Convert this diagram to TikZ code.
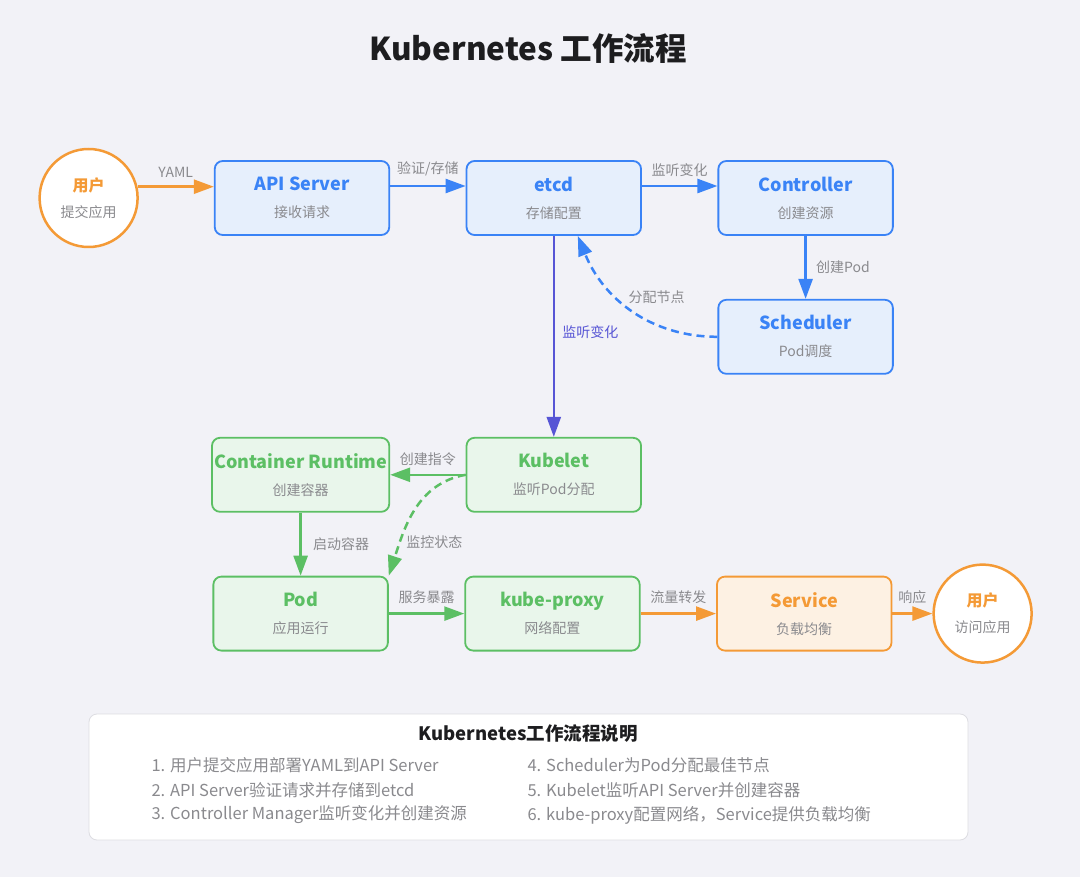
\documentclass[tikz,border=0pt]{standalone}
\usepackage{fontspec}
\setmainfont{Noto Sans CJK SC}
\usepackage{xcolor}
\usetikzlibrary{positioning, arrows.meta}

\definecolor{k8bg}{HTML}{F2F2F7}
\definecolor{k8dark}{HTML}{1D1D1F}
\definecolor{k8gray}{HTML}{8A8A8E}
\definecolor{k8blue}{HTML}{3A83F6}
\definecolor{k8bluefill}{HTML}{E6EFFC}
\definecolor{k8green}{HTML}{5CBF64}
\definecolor{k8greenfill}{HTML}{E9F6EB}
\definecolor{k8orange}{HTML}{F49A36}
\definecolor{k8orangefill}{HTML}{FDF1E3}
\definecolor{k8indigo}{HTML}{5755D5}
\definecolor{k8border}{HTML}{DDDDE2}

\newcommand{\boxlabel}[2]{{\fontsize{18}{20}\selectfont\bfseries #1}\\{\color{k8gray}#2}}

\begin{document}
\begin{tikzpicture}[x=1pt, y=1pt,
    node distance=63pt and 75.5pt,
    box/.style={draw, rounded corners=8pt, line width=1.8pt, minimum width=174.5pt,
                minimum height=74pt, inner sep=2pt, align=center,
                font=\fontsize{14}{27}\selectfont},
    bluebox/.style={box, draw=k8blue, fill=k8bluefill, text=k8blue},
    greenbox/.style={box, draw=k8green, fill=k8greenfill, text=k8green},
    orangebox/.style={box, draw=k8orange, fill=k8orangefill, text=k8orange},
    user/.style={circle, draw=k8orange, fill=white, line width=2.5pt,
                 minimum size=98pt, inner sep=0pt, align=center, text=k8orange,
                 font=\fontsize{14}{26}\selectfont},
    arr/.style={-{Triangle[length=20pt, width=14pt]}, line width=2.5pt},
    dasharr/.style={arr, dash pattern=on 8pt off 5pt},
    lbl/.style={font=\fontsize{14}{16}\selectfont, text=k8gray},
    item/.style={anchor=west, font=\fontsize{16.5}{18}\selectfont, text=k8gray},
  ]
  % canvas
  \fill[k8bg] (0,0) rectangle (1080,-877);
  \useasboundingbox (0,0) rectangle (1080,-877);
  \node[font=\fontsize{31.5}{34}\selectfont\bfseries, text=k8dark] (title) at (528,-48) {Kubernetes 工作流程};

  % control plane
  \node[bluebox] (api) at (302,-198) {\boxlabel{API Server}{接收请求}};
  \node[bluebox, right=of api] (etcd) {\boxlabel{etcd}{存储配置}};
  \node[bluebox, right=of etcd] (ctrl) {\boxlabel{Controller}{创建资源}};
  \node[bluebox, below=of ctrl] (sched) {\boxlabel{Scheduler}{Pod调度}};
  \node[user, left=75pt of api] (user1) {{\fontsize{16}{18}\selectfont\bfseries 用户}\\{\color{k8gray}提交应用}};

  % node side
  \node[greenbox, below=201pt of etcd] (kubelet) {\boxlabel{Kubelet}{监听Pod分配}};
  \node[greenbox, left=of kubelet] (crt) {\boxlabel{Container Runtime}{创建容器}};
  \node[greenbox, below=of crt] (pod) {\boxlabel{Pod}{应用运行}};
  \node[greenbox, right=of pod] (proxy) {\boxlabel{kube-proxy}{网络配置}};
  \node[orangebox, right=of proxy] (svc) {\boxlabel{Service}{负载均衡}};
  \node[user, right=40pt of svc] (user2) {{\fontsize{16}{18}\selectfont\bfseries 用户}\\{\color{k8gray}访问应用}};

  % arrows
  \draw[arr, k8orange] (user1.13) -- (user1.13 -| api.west) node[lbl, midway, above=5pt] {YAML};
  \draw[arr, k8blue] ([yshift=12pt]api.east) -- ([yshift=12pt]etcd.west) node[lbl, midway, above=5pt] {验证/存储};
  \draw[arr, k8blue] ([yshift=12pt]etcd.east) -- ([yshift=12pt]ctrl.west) node[lbl, midway, above=5pt] {监听变化};
  \draw[arr, k8blue] (ctrl) -- (sched) node[lbl, midway, right=6pt] {创建Pod};
  \draw[dasharr, k8blue] (sched.west) to[out=180, in=-68] node[lbl, pos=0.54, anchor=south west, inner sep=1pt] {分配节点} ([xshift=24pt]etcd.south);
  \draw[arr, k8indigo] (etcd) -- (kubelet) node[lbl, text=k8indigo, pos=0.48, right=4pt] {监听变化};
  \draw[arr, k8green] (kubelet) -- (crt) node[lbl, midway, above=5pt] {创建指令};
  \draw[dasharr, k8green] (kubelet.west) to[out=190, in=72] node[lbl, pos=0.76, right=2pt] {监控状态} (pod.north east);
  \draw[arr, k8green] (crt) -- (pod) node[lbl, midway, right=8pt] {启动容器};
  \draw[arr, k8green] (pod) -- (proxy) node[lbl, midway, above=5pt] {服务暴露};
  \draw[arr, k8orange] (proxy) -- (svc) node[lbl, midway, above=5pt] {流量转发};
  \draw[arr, k8orange] (svc) -- (user2) node[lbl, midway, above=5pt] {响应};

  % legend
  \node[draw=k8border, fill=white, rounded corners=8pt, line width=0.8pt,
        minimum width=879pt, minimum height=126pt] (legend) at (528.5,-777) {};
  \node[font=\fontsize{18.5}{20}\selectfont\bfseries, text=k8dark] (legtitle) at (528,-734) {Kubernetes工作流程说明};
  \node[item] (s1) at (148,-765) {1. 用户提交应用部署YAML到API Server};
  \node[item] (s2) at (148,-790) {2. API Server验证请求并存储到etcd};
  \node[item] (s3) at (148,-815) {3. Controller Manager监听变化并创建资源};
  \node[item] (s4) at (524,-765) {4. Scheduler为Pod分配最佳节点};
  \node[item] (s5) at (524,-790) {5. Kubelet监听API Server并创建容器};
  \node[item] (s6) at (524,-815) {6. kube-proxy配置网络，Service提供负载均衡};
\end{tikzpicture}
\end{document}
